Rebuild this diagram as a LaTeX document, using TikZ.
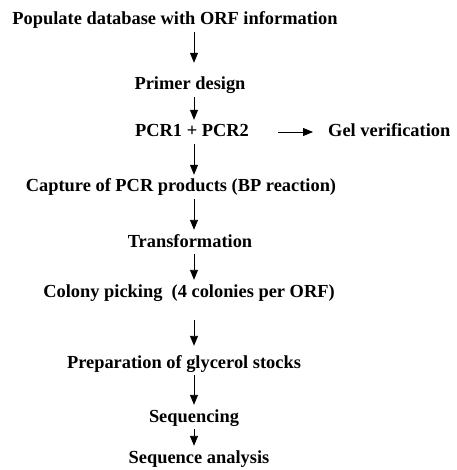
\documentclass[tikz,border=0pt]{standalone}
\usepackage{fontspec}
\setmainfont{Liberation Serif}
\usetikzlibrary{arrows.meta}
\begin{document}
\begin{tikzpicture}[x=1pt,y=-1pt,
  stepnode/.style={anchor=base,font=\fontsize{18.4}{22}\selectfont\bfseries,text height=14pt,text depth=4pt,inner sep=3pt},
  flow/.style={line width=0.9pt,-{Triangle[width=8pt,length=10pt]}}]
\useasboundingbox (0,0) rectangle (456,470);
\coordinate (axis) at (194,0);
\node[stepnode] (Populate) at (175,25) {Populate database with ORF information};
\node[stepnode] (Primer) at (190,90) {Primer design};
\node[stepnode] (PCR) at (192,137) {PCR1 + PCR2};
\node[stepnode,anchor=base west] (Gel) at (325,137) {Gel verification};
\node[stepnode] (Capture) at (181,192) {Capture of PCR products (BP reaction)};
\node[stepnode] (Transform) at (190,247) {Transformation};
\node[stepnode] (Colony) at (189,297) {Colony picking~~(4 colonies per ORF)};
\node[stepnode] (Glycerol) at (184,368) {Preparation of glycerol stocks};
\node[stepnode] (Seq) at (194,422) {Sequencing};
\node[stepnode] (Analysis) at (199,463) {Sequence analysis};

\draw[flow,shorten >=10pt] (Populate.south -| axis) -- (Primer.north -| axis);
\draw[flow] (Primer.south -| axis) -- (PCR.north -| axis);
\draw[flow,shorten <=26pt,shorten >=12pt] (PCR.east) -- (Gel.west);
\draw[flow] (PCR.south -| axis) -- (Capture.north -| axis);
\draw[flow] (Capture.south -| axis) -- (Transform.north -| axis);
\draw[flow] (Transform.south -| axis) -- (Colony.north -| axis);
\draw[flow,shorten <=16pt,shorten >=5pt] (Colony.south -| axis) -- (Glycerol.north -| axis);
\draw[flow] (Glycerol.south -| axis) -- (Seq.north -| axis);
\draw[flow] (Seq.south -| axis) -- (Analysis.north -| axis);
\end{tikzpicture}
\end{document}
